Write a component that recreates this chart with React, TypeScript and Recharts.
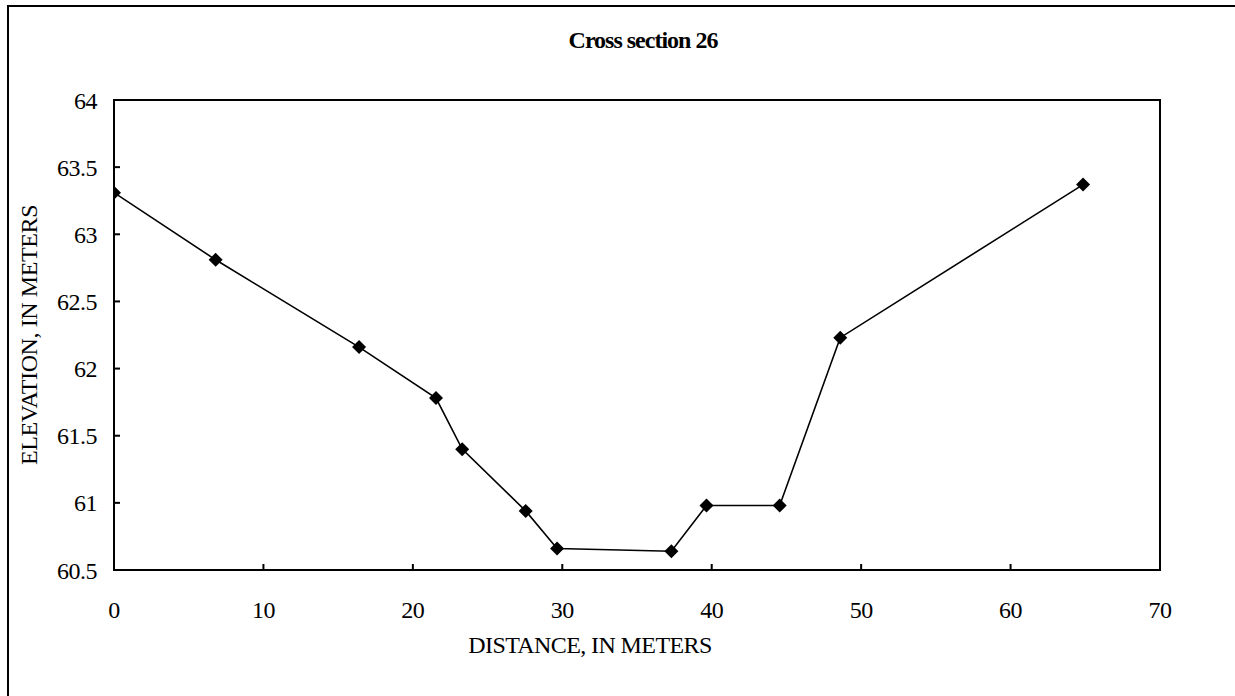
import * as React from "react";
import {
  LineChart, Line, XAxis, YAxis, ReferenceArea, Label,
} from "recharts";

const DISTANCE = [0, 6.8, 16.4, 21.55, 23.3, 27.55, 29.65, 37.3, 39.65, 44.55, 48.6, 64.85];
const ELEVATION = [63.31, 62.81, 62.16, 61.78, 61.40, 60.94, 60.66, 60.64, 60.98, 60.98, 62.23, 63.37];

const X_TICKS = [0, 10, 20, 30, 40, 50, 60, 70];
const Y_TICKS = [60.5, 61, 61.5, 62, 62.5, 63, 63.5, 64];

const TITLE = "Cross section 26";
const X_TITLE = "DISTANCE, IN METERS";
const Y_TITLE = "ELEVATION, IN METERS";

const FONT = '"Liberation Serif", "Times New Roman", serif';
const INK = "#000";

const data = DISTANCE.map((x, i) => ({ x, y: ELEVATION[i] }));

function Diamond(props: any) {
  const { cx, cy, index } = props;
  if (cx == null || cy == null) return null;
  const r = 7;
  return (
    <path key={index} d={`M${cx},${cy - r}L${cx + r},${cy}L${cx},${cy + r}L${cx - r},${cy}Z`} fill={INK}/>
  );
}

export default function App() {
  return (
    <div style={{ position: "fixed", left: 0, top: 0, width: 1235, height: 696, background: "#fff", fontFamily: FONT }}>
      <div style={{ position: "absolute", left: 7, top: 5, width: 1228, height: 691,
                    borderTop: "2px solid #000", borderLeft: "2px solid #000", boxSizing: "border-box" }}/>
      <div style={{ position: "absolute", left: 0, top: 26, width: 1286, textAlign: "center",
                    fontSize: 24, fontWeight: "bold", letterSpacing: -1, lineHeight: "28px", color: INK }}>
        {TITLE}
      </div>
      <LineChart width={1235} height={696} data={data}
                 margin={{ top: 100, right: 75, left: 0, bottom: 0 }}
                 style={{ position: "absolute", left: 0, top: 0 }}>
        <XAxis dataKey="x" type="number" domain={[0, 70]} ticks={X_TICKS} allowDataOverflow
               height={126} stroke={INK} strokeWidth={2} tickSize={-6} tickMargin={37}
               tick={{ fill: INK, fontSize: 24, fontFamily: FONT, letterSpacing: -0.5 }}>
          <Label content={() => (
            <text x={590} y={653} textAnchor="middle" fill={INK} fontSize={24}
                  fontFamily={FONT} letterSpacing={-0.6}>{X_TITLE}</text>
          )}/>
        </XAxis>
        <YAxis type="number" domain={[60.5, 64]} ticks={Y_TICKS} allowDataOverflow
               width={114} stroke={INK} strokeWidth={2} tickSize={-6} tickMargin={23}
               tick={{ fill: INK, fontSize: 24, fontFamily: FONT, letterSpacing: -0.5 }}>
          <Label content={() => (
            <text x={37} y={335} transform="rotate(-90 37 335)" textAnchor="middle" fill={INK}
                  fontSize={24} fontFamily={FONT} letterSpacing={-0.4}>{Y_TITLE}</text>
          )}/>
        </YAxis>
        <ReferenceArea x1={0} x2={70} y1={60.5} y2={64} fill="none" fillOpacity={0}
                       stroke={INK} strokeWidth={2}/>
        <Line dataKey="y" type="linear" stroke={INK} strokeWidth={1.6}
              dot={<Diamond/>} activeDot={false} isAnimationActive={false}/>
      </LineChart>
    </div>
  );
}
